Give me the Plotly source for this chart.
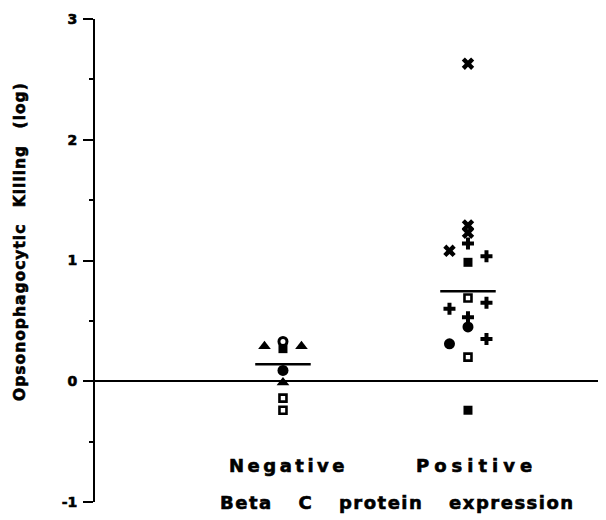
import plotly.graph_objects as go

# ---- data ----
categories = ["Negative", "Positive"]
category_x = [1, 2]

neg_values = [0.29, 0.29, 0.33, 0.27, 0.09, -0.01, -0.14, -0.24]
neg_jitter = [-0.1, 0.1, 0.0, 0.0, 0.0, 0.0, 0.0, 0.0]
neg_kinds = ["triangle", "triangle", "open circle", "filled square", "filled circle",
             "triangle", "open square", "open square"]

pos_values = [2.63, 1.29, 1.23, 1.14, 1.08, 1.035, 0.985, 0.69, 0.65, 0.60, 0.53,
              0.45, 0.35, 0.31, 0.20, -0.24]
pos_jitter = [0.0, 0.0, 0.0, 0.0, -0.1, 0.1, 0.0, 0.0, 0.1, -0.1, 0.0,
              0.0, 0.1, -0.1, 0.0, 0.0]
pos_kinds = ["x", "x", "x", "plus", "x", "plus", "filled square", "open square", "plus",
             "plus", "plus", "filled circle", "plus", "filled circle", "open square",
             "filled square"]

group_means = [0.14, 0.745]

y_tick_values = [-1, 0, 1, 2, 3]
y_tick_labels = ["-1", "0", "1", "2", "3"]
y_minor_values = [-0.5, 0.5, 1.5, 2.5]

# ---- styles ----
STYLE = {
    "triangle": dict(symbol="triangle-up", size=11, color="black", line=dict(width=0)),
    "open circle": dict(symbol="circle", size=8, color="white", line=dict(width=3, color="black")),
    "filled square": dict(symbol="square", size=9, color="black", line=dict(width=0)),
    "filled circle": dict(symbol="circle", size=11, color="black", line=dict(width=0)),
    "open square": dict(symbol="square", size=7, color="white", line=dict(width=2.6, color="black")),
    "x": dict(symbol="x", size=11, color="black", line=dict(width=0)),
    "plus": dict(symbol="cross", size=10, color="black", line=dict(width=0)),
}
ORDER = ["filled square", "open circle", "triangle", "filled circle", "open square", "x", "plus"]

fig = go.Figure()

# mean bars
half = 0.15
for cx, m in zip(category_x, group_means):
    fig.add_trace(go.Scatter(x=[cx - half, cx + half], y=[m, m], mode="lines",
                             line=dict(color="black", width=2.5), hoverinfo="skip",
                             showlegend=False))

groups = [(category_x[0], neg_values, neg_jitter, neg_kinds),
          (category_x[1], pos_values, pos_jitter, pos_kinds)]
for kind in ORDER:
    xs, ys = [], []
    for cx, vals, jit, kinds in groups:
        for v, j, k in zip(vals, jit, kinds):
            if k == kind:
                xs.append(cx + j)
                ys.append(v)
    if xs:
        fig.add_trace(go.Scatter(x=xs, y=ys, mode="markers", marker=STYLE[kind],
                                 showlegend=False, name=kind))

FONT = "DejaVu Sans, Liberation Sans, Arial, sans-serif"
HEAVY = "stroke:black;stroke-width:0.6px;"

# page body has an 8px margin, so the figure is 8px smaller and margins compensate
fig.update_layout(
    width=598, height=512,
    margin=dict(l=87, r=0, t=11, b=18),
    paper_bgcolor="white", plot_bgcolor="white",
    showlegend=False,
    xaxis=dict(range=[-0.016, 2.746], showgrid=False, zeroline=False, showline=False,
               showticklabels=False, ticks=""),
    yaxis=dict(range=[-1, 3], showgrid=False, zeroline=True, zerolinecolor="black",
               zerolinewidth=2, showline=True, linecolor="black", linewidth=2,
               ticks="outside", ticklen=10, tickwidth=2, tickcolor="black",
               tickvals=y_tick_values,
               ticktext=['<span style="%s">%s</span>' % (HEAVY, t) for t in y_tick_labels],
               tickfont=dict(family=FONT, size=14, color="black", weight="bold"),
               ticklabelstandoff=3,
               minor=dict(tickvals=y_minor_values, ticks="outside", ticklen=4,
                          tickwidth=2, tickcolor="black")),
)

lab_font = dict(family=FONT, size=18, color="black", weight="bold")
fig.add_annotation(x=1.03, y=-0.70, xref="x", yref="y", showarrow=False,
                   xanchor="center", yanchor="middle",
                   text='<span style="%sletter-spacing:3.5px">%s</span>' % (HEAVY, categories[0]),
                   font=lab_font)
fig.add_annotation(x=2.045, y=-0.70, xref="x", yref="y", showarrow=False,
                   xanchor="center", yanchor="middle",
                   text='<span style="%sletter-spacing:5px">%s</span>' % (HEAVY, categories[1]),
                   font=lab_font)
fig.add_annotation(x=1.62, y=-1.0, xref="x", yref="y", showarrow=False,
                   xanchor="center", yanchor="middle",
                   text='<span style="%sletter-spacing:1.5px;word-spacing:18px">Beta C protein expression</span>' % HEAVY,
                   font=lab_font)
fig.add_annotation(x=0, y=(502 - 242) / 483, xref="paper", yref="paper", xshift=-75,
                   xanchor="center", yanchor="middle",
                   showarrow=False, textangle=-90,
                   text='<span style="%sletter-spacing:1px;word-spacing:10px">Opsonophagocytic Killing (log)</span>' % HEAVY,
                   font=dict(family=FONT, size=15.5, color="black", weight="bold"))

fig.write_html("out.html")
